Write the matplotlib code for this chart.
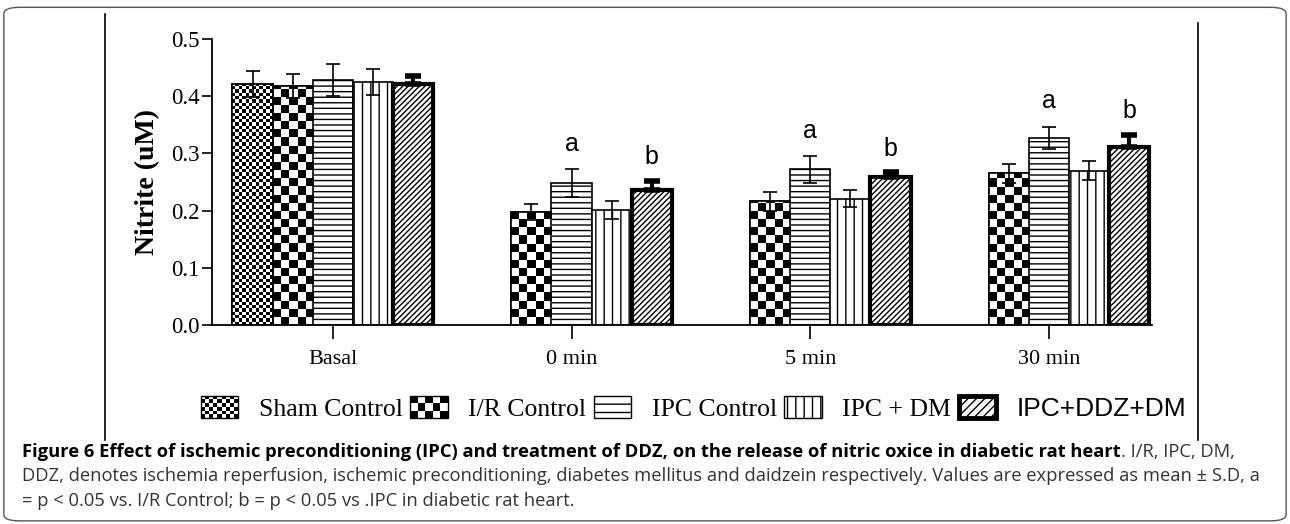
import numpy as np
import matplotlib.pyplot as plt
from matplotlib.patches import FancyBboxPatch, Rectangle
from matplotlib.lines import Line2D
from matplotlib.legend_handler import HandlerBase

groups = ["Basal", "0 min", "5 min", "30 min"]
series = ["Sham Control", "I/R Control", "IPC Control", "IPC + DM", "IPC+DDZ+DM"]
# Sham Control is only measured at Basal
sham = [0.421, np.nan, np.nan, np.nan]
ir = [0.418, 0.197, 0.216, 0.265]
ipc = [0.428, 0.248, 0.272, 0.327]
ipc_dm = [0.425, 0.201, 0.221, 0.270]
ddz = [0.421, 0.236, 0.259, 0.312]
sham_sd = [0.023, 0, 0, 0]
ir_sd = [0.021, 0.014, 0.017, 0.017]
ipc_sd = [0.028, 0.024, 0.023, 0.020]
ipc_dm_sd = [0.023, 0.016, 0.015, 0.016]
ddz_sd = [0.014, 0.016, 0.008, 0.021]
sig_a = ["", "a", "a", "a"]   # over IPC Control
sig_b = ["", "b", "b", "b"]   # over IPC+DDZ+DM

serif = "Liberation Serif"
sans = "Liberation Sans"

fig = plt.figure(figsize=(12.9, 5.24), dpi=100)
ax = fig.add_axes([0.1643, 0.3798, 0.7285, 0.5458])

x = np.arange(len(groups))
w = 0.168
offs = (np.arange(5) - 2) * w


def checker_fill(bars, cell_w, cell_h):
    # paint a checkerboard inside each bar, clipped to the bar shape
    for b in bars:
        h = b.get_height()
        if not np.isfinite(h) or h <= 0:
            continue
        x0 = b.get_x()
        nx = max(1, int(round(b.get_width() / cell_w)))
        ny = int(np.ceil(h / cell_h))
        board = (np.add.outer(np.arange(ny), np.arange(nx)) % 2).astype(float)
        im = ax.imshow(board, cmap="gray_r", vmin=0, vmax=1, interpolation="nearest",
                       extent=(x0, x0 + b.get_width(), 0, ny * cell_h),
                       aspect="auto", origin="lower", zorder=1.5)
        im.set_clip_path(b)
        ax.add_patch(Rectangle((x0, 0), b.get_width(), h, fill=False,
                               edgecolor="black", lw=1.2, zorder=2))


class CheckerHandler(HandlerBase):
    def __init__(self, nx, ny, lw=1.0):
        super().__init__()
        self.nx, self.ny, self.lw = nx, ny, lw

    def create_artists(self, legend, orig_handle, xdescent, ydescent, width, height, fontsize, trans):
        x0, y0 = -xdescent, -ydescent
        arts = [Rectangle((x0, y0), width, height, facecolor="white", edgecolor="none", transform=trans)]
        cw, ch = width / self.nx, height / self.ny
        for i in range(self.nx):
            for j in range(self.ny):
                if (i + j) % 2 == 0:
                    arts.append(Rectangle((x0 + i * cw, y0 + j * ch), cw, ch, facecolor="black",
                                          edgecolor="none", transform=trans))
        arts.append(Rectangle((x0, y0), width, height, fill=False, edgecolor="black",
                              lw=self.lw, transform=trans))
        return arts


ekw = dict(ecolor="black", elinewidth=1.2, capthick=1.2)

b_sham = ax.bar(x + offs[0], sham, w, color="white", edgecolor="black", lw=1.2, zorder=1)
ax.errorbar(x[:1] + offs[0], sham[:1], yerr=sham_sd[:1], fmt="none", capsize=5, zorder=3, **ekw)
checker_fill(b_sham, w / 12, 0.0058)

b_ir = ax.bar(x + offs[1], ir, w, color="white", edgecolor="black", lw=1.2, zorder=1)
ax.errorbar(x + offs[1], ir, yerr=ir_sd, fmt="none", capsize=5, zorder=3, **ekw)
checker_fill(b_ir, w / 5, 0.0142)

ax.bar(x + offs[2], ipc, w, color="white", edgecolor="black", lw=1.2, hatch="---", zorder=1)
ax.errorbar(x + offs[2], ipc, yerr=ipc_sd, fmt="none", capsize=5, zorder=3, **ekw)

ax.bar(x + offs[3], ipc_dm, w, color="white", edgecolor="black", lw=1.2, hatch="||", zorder=1)
ax.errorbar(x + offs[3], ipc_dm, yerr=ipc_dm_sd, fmt="none", capsize=5, zorder=3, **ekw)

ax.bar(x + offs[4], ddz, w, color="white", edgecolor="black", lw=3, hatch="//////", zorder=1)
ax.errorbar(x + offs[4], ddz, yerr=[np.zeros(4), ddz_sd], fmt="none", capsize=6,
            ecolor="black", elinewidth=3, capthick=4, zorder=3)

for i in range(len(groups)):
    if sig_a[i]:
        ax.text(x[i] + offs[2], ipc[i] + ipc_sd[i] + 0.024, sig_a[i], ha="center", va="bottom",
                fontsize=18, family=sans)
    if sig_b[i]:
        ax.text(x[i] + offs[4], ddz[i] + ddz_sd[i] + 0.020, sig_b[i], ha="center", va="bottom",
                fontsize=18, family=sans)

ax.set_xlim(-0.506, 3.43)
ax.set_ylim(0, 0.5)
ax.set_yticks([0.0, 0.1, 0.2, 0.3, 0.4, 0.5])
ax.set_yticklabels(["0.0", "0.1", "0.2", "0.3", "0.4", "0.5"], family=serif, fontsize=16.5)
ax.set_xticks(x)
ax.set_xticklabels(groups, family=serif, fontsize=16)
ax.tick_params(axis="y", direction="out", length=7, width=1.2, pad=2)
ax.tick_params(axis="x", direction="out", length=10, width=1.2, pad=8)
ax.spines["top"].set_visible(False)
ax.spines["right"].set_visible(False)
ax.spines["left"].set_linewidth(1.3)
ax.spines["bottom"].set_linewidth(1.3)
ax.set_ylabel("Nitrite (uM)", family=serif, fontsize=20, fontweight="bold", labelpad=8)

# legend
h_sham = Rectangle((0, 0), 1, 1)
h_ir = Rectangle((0, 0), 1, 1)
handles = [
    h_sham,
    h_ir,
    Rectangle((0, 0), 1, 1, facecolor="white", edgecolor="black", hatch="--"),
    Rectangle((0, 0), 1, 1, facecolor="white", edgecolor="black", hatch="||"),
    Rectangle((0, 0), 1, 1, facecolor="white", edgecolor="black", lw=3.5, hatch="////"),
]
leg = fig.legend(handles, series, loc="center", bbox_to_anchor=(0.5376, 0.221), ncol=5,
                 frameon=False, handlelength=1.45, handleheight=0.95, handletextpad=0.8,
                 columnspacing=0.3, prop={"family": serif, "size": 18.5},
                 handler_map={h_sham: CheckerHandler(9, 6), h_ir: CheckerHandler(5, 3)})
leg.get_texts()[4].set_family(sans)
leg.get_texts()[4].set_fontsize(19)

# panel frame lines
fig.add_artist(Line2D([0.0814, 0.0814], [1 - 14 / 524, 1 - 440 / 524], color="black", lw=1.2))
fig.add_artist(Line2D([0.9287, 0.9287], [1 - 23 / 524, 1 - 440 / 524], color="black", lw=1.2))
fig.add_artist(FancyBboxPatch((0.003, 0.006), 0.994, 0.980, boxstyle="round,pad=0,rounding_size=0.012",
                              transform=fig.transFigure, fill=False, edgecolor="#555555", lw=1.0))

# caption
cap = "Open Sans"
cfs = 13.2
t1 = fig.text(0.017, 1 - 452 / 524, "Figure 6 Effect of ischemic preconditioning (IPC) and treatment of DDZ, "
              "on the release of nitric oxice in diabetic rat heart", family=cap, fontweight="bold",
              fontsize=cfs, va="center", ha="left")
fig.canvas.draw()
bb = t1.get_window_extent().transformed(fig.transFigure.inverted())
fig.text(bb.x1, 1 - 452 / 524, ". I/R, IPC, DM,", family=cap, fontsize=cfs, va="center", ha="left",
         color="#333333")
fig.text(0.017, 1 - 476 / 524, "DDZ, denotes ischemia reperfusion, ischemic preconditioning, diabetes mellitus "
         "and daidzein respectively. Values are expressed as mean \u00b1 S.D, a", family=cap,
         fontsize=cfs, va="center", ha="left", color="#333333")
fig.text(0.017, 1 - 501 / 524, "= p < 0.05 vs. I/R Control; b = p < 0.05 vs .IPC in diabetic rat heart.",
         family=cap, fontsize=cfs, va="center", ha="left", color="#333333")

fig.savefig("out.png", dpi=100)
